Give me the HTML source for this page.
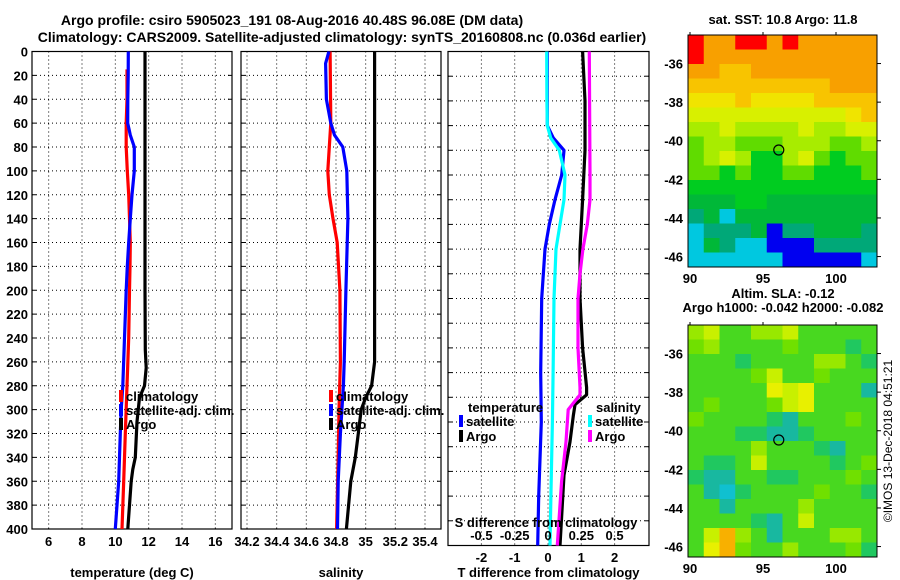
<!DOCTYPE html>
<html><head><meta charset="utf-8"><style>
body{margin:0;background:#fff;}
svg{display:block;font-family:"Liberation Sans",Arial,sans-serif;font-weight:bold;}
</style></head><body>
<svg id="chart" width="900" height="580" viewBox="0 0 900 580" xmlns="http://www.w3.org/2000/svg">
<rect width="900" height="580" fill="#fff"/>
<text x="292" y="25" font-size="14" text-anchor="middle">Argo profile: csiro 5905023_191 08-Aug-2016 40.48S 96.08E (DM data)</text>
<text x="342" y="42" font-size="14" text-anchor="middle">Climatology: CARS2009. Satellite-adjusted climatology: synTS_20160808.nc (0.036d earlier)</text>
<g id="g"></g>
</svg>
<script>
// ---- data ----
const depthTicks=[0,20,40,60,80,100,120,140,160,180,200,220,240,260,280,300,320,340,360,380,400];
const tempTicks=[6,8,10,12,14,16];
const salTicks=[34.2,34.4,34.6,34.8,35,35.2,35.4];
const salTickLabels=["34.2","34.4","34.6","34.8","35","35.2","35.4"];
const dTTicks=[-2,-1,0,1,2];
const dSTicks=[-0.5,-0.25,0,0.25,0.5];
const dSTickLabels=["-0.5","-0.25","0","0.25","0.5"];

const tempClimDepths=[15,40,60,80,100,120,140,160,180,200,240,280,320,360,400];
const tempClim=[10.7,10.7,10.65,10.65,10.72,10.8,10.85,10.9,10.88,10.85,10.8,10.7,10.6,10.5,10.4];
const tempSatDepths=[0,20,40,60,70,80,100,120,140,160,180,200,240,280,300,320,340,360,380,400];
const tempSat=[10.78,10.77,10.75,10.74,10.9,11.14,11.14,11.0,10.9,10.8,10.72,10.65,10.55,10.45,10.35,10.3,10.25,10.2,10.1,10.0];
const argoTDepths=[0,50,100,150,200,250,265,280,290,310,340,350,360,380,400];
const argoT=[11.78,11.78,11.78,11.78,11.78,11.8,11.85,11.75,11.45,11.3,11.2,11.05,10.95,10.85,10.75];

const salSatDepths=[0,10,40,60,70,80,100,140,200,260,280,300,320,360,400];
const salSat=[34.752,34.73,34.735,34.765,34.79,34.846,34.873,34.88,34.867,34.855,34.85,34.84,34.83,34.815,34.81];
const salClimDepths=[0,60,80,100,120,140,160,200,260,300,340,400];
const salClim=[34.76,34.765,34.755,34.745,34.755,34.78,34.808,34.826,34.83,34.82,34.815,34.804];
const argoSDepths=[0,100,200,260,280,290,300,320,340,360,400];
const argoS=[35.06,35.06,35.06,35.06,35.04,35.0,34.97,34.95,34.93,34.9,34.87];

const dSatDepths=[0,40,60,70,80,100,120,140,160,200,260,300,360,400];
const dTsat=[-0.02,-0.02,-0.02,0.16,0.48,0.41,0.21,0.04,-0.09,-0.19,-0.22,-0.2,-0.28,-0.31];
const dSsat=[-0.01,-0.008,-0.005,0.02,0.085,0.128,0.12,0.09,0.06,0.045,0.038,0.033,0.022,0.015];
const dTargoDepths=[0,40,80,120,160,200,240,272,278,286,295,316,343,400];
const dTargo=[1.04,1.11,1.11,1.04,0.96,0.96,1.04,1.16,1.16,0.81,0.76,0.66,0.48,0.36];
const dSargoDepths=[0,100,120,140,160,180,200,240,272,278,290,316,348,400];
const dSargo=[0.31,0.315,0.315,0.295,0.262,0.24,0.225,0.225,0.24,0.24,0.152,0.135,0.102,0.07];

const sstGrid=[
[13,12.5,12.5,13,13,12.5,13,12.5,12.5,12.5,12.5,12.5],
[13,12.5,12.5,12.5,12.5,12.5,12.5,12.5,12.5,12.5,12.5,12.5],
[12.5,12.5,12.2,12.2,12.5,12.5,12.5,12.5,12.5,12.5,12.5,12.5],
[12.2,12,12,12.2,12,12,12.2,12.2,12.2,12.5,12.5,12.5],
[11.8,11.8,11.8,12,11.8,11.8,11.8,11.8,12,12,12,12.2],
[11.6,11.6,11.6,11.6,11.6,11.6,11.6,11.6,11.6,11.6,11.8,12],
[11.3,11.3,11.5,11.3,11.3,11.3,11.3,11.5,11.3,11.3,11.5,11.6],
[11,11.2,11.2,11,11,10.9,11.2,11.3,11.2,11,11,11.2],
[11,11.2,11.4,11.2,10.8,10.8,11.2,11.4,11,10.8,11,11],
[11,11,10.8,10.9,10.8,10.8,10.9,11,10.8,10.8,10.8,11],
[10.6,10.6,10.7,10.7,10.8,10.7,10.7,10.7,10.7,10.8,10.8,10.7],
[10.4,10.4,10.5,10.6,10.6,10.5,10.5,10.4,10.5,10.5,10.5,10.5],
[10.2,10.3,9.7,10.3,10.4,10.4,10.3,10.3,10.4,10.4,10.3,10.3],
[9.8,10.2,10,10,10.3,9.2,10.2,10.2,10.3,10.4,10.3,10.2],
[9.7,10.3,10.2,9.8,9.7,9,9,9.2,10.2,10.2,10.2,10],
[9.7,9.8,9.8,9.7,9.7,9.7,9.2,9,9,9,9.2,9.5]];
const slaGrid=[
[0.1,0.15,0,0,0.1,0.1,0.15,0,0,0,0,0],
[0.05,0.1,0,0,0,0,0.05,0,0,0,-0.05,0],
[0,0,0,-0.05,0,0,0,0,0.1,0.1,0,-0.05],
[0,0,0,0,0.05,0.15,0,0,0.05,0,0,0],
[0,0,0,0,0,0.2,0.15,0.2,0,0,0,-0.08],
[0,0.05,0,0,0,0.05,0.15,0.2,0,0,0,0],
[0.05,0,0,0,0,-0.05,-0.08,0,0,0,0.05,0],
[0,0,0,-0.05,-0.05,-0.08,-0.1,-0.05,0,0,0,0],
[0,0,0,0,0.1,0,0,0,-0.05,-0.1,0,0],
[0,-0.05,-0.05,0,0.15,0,0,0,0,-0.05,0,0.05],
[-0.05,-0.1,-0.1,0,0,-0.05,-0.05,0,0,0,0.05,0],
[0,-0.1,-0.15,-0.05,0,0,0,0,0.05,0,0,-0.05],
[0,0,-0.08,0,0,0,0,0.1,0,0,0,0],
[0,0,0,0,-0.05,-0.1,0,0.15,0,0,0,0],
[0,0.15,0.3,0.1,0,-0.08,0,0,0,0.1,0.1,0],
[0,0.2,0.25,0.05,0,0,0.1,0,0,0,0.05,-0.05]];
const mapLatTicks=[-36,-38,-40,-42,-44,-46];
const mapLonTicks=[90,95,100];
const argoLon=96.08, argoLat=-40.48;

// ---- helpers ----
const NS="http://www.w3.org/2000/svg";
const G=document.getElementById('g');
function el(tag,attrs,parent){const e=document.createElementNS(NS,tag);for(const k in attrs)e.setAttribute(k,attrs[k]);(parent||G).appendChild(e);return e;}
function txt(x,y,s,size,anchor,parent){const t=el('text',{x:x,y:y,'font-size':size,'text-anchor':anchor||'middle'},parent);t.textContent=s;return t;}
const TOP=51.5;
function lin(v0,v1,p0,p1){return v=>p0+(v-v0)*(p1-p0)/(v1-v0);}
const yD=lin(0,400,TOP,529);
const yD3=lin(0,400,TOP,545.5);

function panel(name,x0,x1,xs,ys,ticks,labels,labelY,title){
  const BOT=ys(400);
  const g=el('g',{});
  
  
  ticks.forEach(t=>{const x=xs(t);el('line',{x1:x,x2:x,y1:TOP,y2:BOT,stroke:'#000','stroke-width':1,'stroke-dasharray':'1,3'},g);});
  depthTicks.forEach(d=>{if(d==0||d==400)return;const y=ys(d);el('line',{x1:x0,x2:x1,y1:y,y2:y,stroke:'#000','stroke-width':1,'stroke-dasharray':'1,3'},g);});
  depthTicks.forEach(d=>{const y=ys(d);el('line',{x1:x0,x2:x0+4,y1:y,y2:y,stroke:'#000'},g);el('line',{x1:x1-4,x2:x1,y1:y,y2:y,stroke:'#000'},g);});
  el('rect',{x:x0,y:TOP,width:x1-x0,height:BOT-TOP,fill:'none',stroke:'#000','stroke-width':1.2},g);
  ticks.forEach((t,i)=>{const l=txt(xs(t),labelY,labels[i],13,'middle',g);});
  const tt=txt((x0+x1)/2,577,title,13,'middle',g);
  return g;
}
function series(name,depths,vals,xs,ys,color,parent){
  const pts=depths.map((d,i)=>xs(vals[i]).toFixed(1)+','+ys(d).toFixed(1)).join(' ');
  const p=el('polyline',{points:pts,fill:'none',stroke:color,'stroke-width':3.2,'stroke-linejoin':'round'},parent);
  
  
}
function legendEntry(name,x,y,color,label,parent){
  const g=el('g',{},parent);
  
  
  el('rect',{x:x,y:y-11,width:4,height:12,fill:color},g);
  txt(x+7,y,label,13,'start',g);
}

// ---- panel 1 temperature ----
const xT=lin(5,17,32,232);
const p1=panel('temperature-panel',32,232,xT,yD,tempTicks,tempTicks.map(String),546,'temperature (deg C)');
depthTicks.forEach(d=>{const l=txt(28,yD(d)+5,String(d),13,'end');});
series('temp-climatology-line',tempClimDepths,tempClim,xT,yD,'#f00',p1);
series('temp-satellite-adj-line',tempSatDepths,tempSat,xT,yD,'#00f',p1);
series('temp-argo-line',argoTDepths,argoT,xT,yD,'#000',p1);
legendEntry('legend-climatology',119,401,'#f00','climatology',p1);
legendEntry('legend-satellite-adj',119,415,'#00f','satellite-adj. clim.',p1);
legendEntry('legend-argo',119,429,'#000','Argo',p1);

// ---- panel 2 salinity ----
const xS=lin(34.2,35.4,247,425);
const p2=panel('salinity-panel',241,441,xS,yD,salTicks,salTickLabels,546,'salinity');
series('sal-climatology-line',salClimDepths,salClim,xS,yD,'#f00',p2);
series('sal-satellite-adj-line',salSatDepths,salSat,xS,yD,'#00f',p2);
series('sal-argo-line',argoSDepths,argoS,xS,yD,'#000',p2);
legendEntry('legend-climatology-2',329,401,'#f00','climatology',p2);
legendEntry('legend-satellite-adj-2',329,415,'#00f','satellite-adj. clim.',p2);
legendEntry('legend-argo-2',329,429,'#000','Argo',p2);

// ---- panel 3 differences ----
const xdT=lin(0,1,548,581.3);
const xdS=s=>xdT(s*4);
const p3=panel('difference-panel',448,649,xdT,yD3,dTTicks,dTTicks.map(String),562,'T difference from climatology');
series('dT-satellite-line',dSatDepths,dTsat,xdT,yD3,'#00f',p3);
series('dS-satellite-line',dSatDepths,dSsat,xdS,yD3,'#0ff',p3);
series('dT-argo-line',dTargoDepths,dTargo,xdT,yD3,'#000',p3);
series('dS-argo-line',dSargoDepths,dSargo,xdS,yD3,'#f0f',p3);
txt(468,412,'temperature',13,'start',p3);
legendEntry('legend-t-satellite',459,426,'#00f','satellite',p3);
legendEntry('legend-t-argo',459,441,'#000','Argo',p3);
txt(596,412,'salinity',13,'start',p3);
legendEntry('legend-s-satellite',588,426,'#0ff','satellite',p3);
legendEntry('legend-s-argo',588,441,'#f0f','Argo',p3);
const st=txt(546,527,'S difference from climatology',13,'middle',p3);

dSTicks.forEach((s,i)=>{const l=txt(xdS(s),540,dSTickLabels[i],13,'middle',p3);});

// ---- maps ----
function sstColor(v){if(v>=12.8)return'#ff0000';if(v>=12.3)return'#f8a000';if(v>=12.0)return'#f8c400';if(v>=11.7)return'#f0e400';if(v>=11.4)return'#d8f000';if(v>=11.1)return'#a8ec00';if(v>=10.9)return'#60dc00';if(v>=10.6)return'#00cc20';if(v>=10.3)return'#00b838';if(v>=9.9)return'#00a878';if(v>=9.4)return'#00c8e0';return'#0000f0';}
function slaColor(v){if(v>=0.25)return'#f8b000';if(v>=0.18)return'#e8f000';if(v>=0.12)return'#c8f000';if(v>=0.07)return'#98e800';if(v>=0.02)return'#70e000';if(v>=-0.03)return'#48d820';if(v>=-0.07)return'#20c860';if(v>=-0.12)return'#18b8a0';return'#10c0d0';}
function drawMap(name,y0,y1,grid,cfn,title1,title2){
  const x0=688,x1=877;
  const g=el('g',{});
  
  
  const rows=grid.length,cols=grid[0].length,cw=(x1-x0)/cols,ch=(y1-y0)/rows;
  grid.forEach((r,i)=>r.forEach((v,j)=>{el('rect',{x:x0+j*cw,y:y0+i*ch,width:cw+0.5,height:ch+0.5,fill:cfn(v)},g);}));
  el('rect',{x:x0,y:y0,width:x1-x0,height:y1-y0,fill:'none',stroke:'#000','stroke-width':1},g);
  const lonX=lin(90,100,690,836), latY=lin(-36,-46,y0+(y1-y0)*0.123,y0+(y1-y0)*0.955);
  mapLatTicks.forEach(t=>{const y=latY(t);el('line',{x1:x1,x2:x1+4,y1:y,y2:y,stroke:'#000'},g);txt(683,y+5,String(t),13,'end',g);});
  mapLonTicks.forEach(t=>{const x=lonX(t);el('line',{x1:x,x2:x,y1:y0,y2:y0-3,stroke:'#000'},g);txt(x,y1+16,String(t),13,'middle',g);});
  const c=el('circle',{cx:lonX(argoLon),cy:latY(argoLat),r:5,fill:'none',stroke:'#000','stroke-width':1.2},g);
  
  
  if(title2){txt(783,y0-27,title1,13,'middle',g);txt(783,y0-13,title2,13,'middle',g);}
  else txt(783,y0-11,title1,13,'middle',g);
}
drawMap('sst-map',35,267,sstGrid,sstColor,'sat. SST: 10.8 Argo: 11.8');
drawMap('sla-map',325,557,slaGrid,slaColor,'Altim. SLA: -0.12','Argo h1000: -0.042 h2000: -0.082');
const cr=txt(0,0,'©IMOS 13-Dec-2018 04:51:21',12,'middle');
cr.setAttribute('transform','translate(892,441) rotate(-90)');
cr.setAttribute('font-weight','normal');


</script>
</body></html>
